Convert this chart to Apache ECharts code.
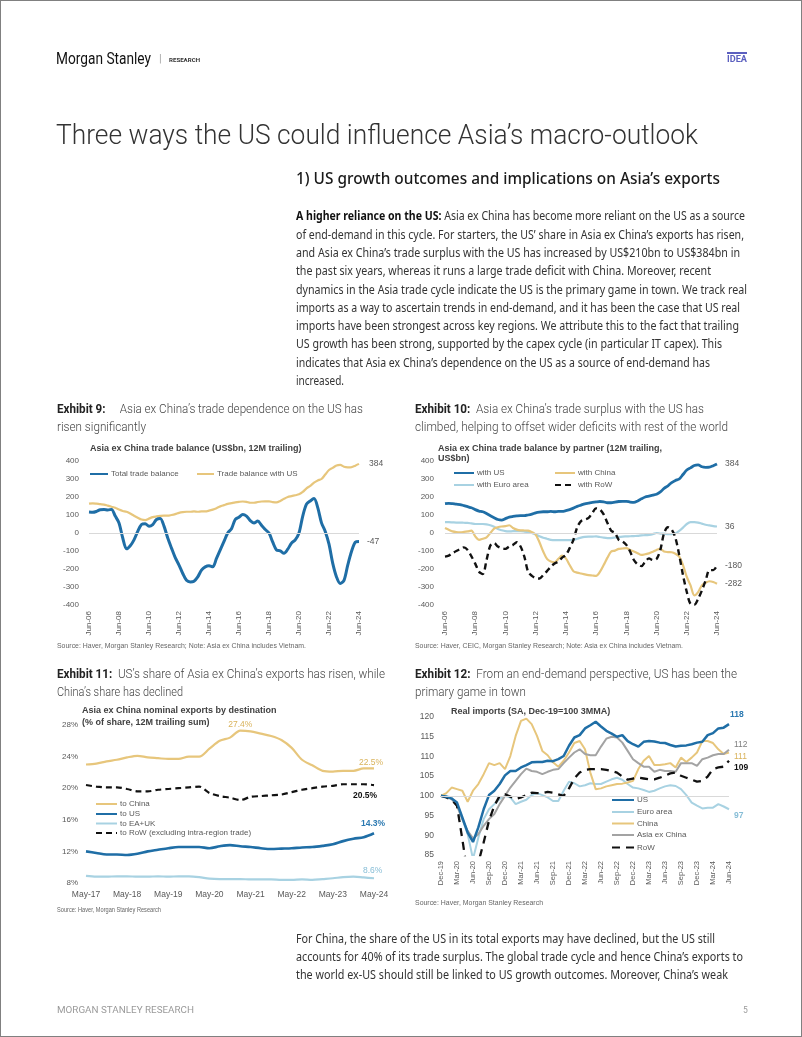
<!DOCTYPE html>
<html><head><meta charset="utf-8">
<script src="https://cdn.jsdelivr.net/npm/echarts@6/dist/echarts.min.js"></script>
<style>
html,body{margin:0;padding:0;background:#fff;}
#page{position:relative;width:802px;height:1037px;overflow:hidden;box-sizing:border-box;border:1px solid #808080;}
#chart{position:absolute;left:0;top:0;width:802px;height:1037px;}
.t{position:absolute;white-space:nowrap;transform-origin:0 50%;}
</style></head>
<body><div id="page"><div id="chart"></div><div id="txt"></div></div>
<script>
// ---------------- DATA ----------------
// Exhibit 9 / 10 : quarterly, Jun-06 .. Jun-24 (US$bn, 12M trailing)
const totalBalance = [116,115,120, 129,130,128,131, 94,56,-28,-88, -71,-38,9,47, 51,38,47,75, 81,38,-28,-84,
  -137,-178,-225,-263, -272,-268,-244,-206, -188,-182,-188,-141, -94,-47,0,24, 75,88,103,94, 69,56,66,43,
  19,0,-51,-94, -99,-113,-90,-56, -38,0,94,160, 178,191,141,56, 9,-62,-169,-244, -281,-263,-178,-103, -51,-47];
const usBalance = [163,165,163, 160,158,152,146, 140,130,122,118, 108,96,85,75, 72,80,88,92, 95,97,96,100,
  105,112,116,118, 118,120,118,120, 120,124,130,138, 148,155,162,166, 170,173,175,173, 168,168,172,175,
  176,176,172,170, 178,190,200,205, 210,215,228,248, 262,280,292,300, 325,350,362,375, 378,368,365,366, 374,384];
const euroBalance = [60,60,59, 58,58,57,56, 53,50,50,50, 48,43,35,22, 15,10,9,10, 10,10,8,5, 0,-9,-18,-26,
  -32,-38,-40,-40, -40,-40,-40,-38, -32,-26,-22,-20, -20,-19,-22,-26, -28,-28,-25,-22, -20,-19,-18,-17,
  -16,-13,-12,-10, -6,0,-3,-4, -6,-6,-2,12, 30,50,60,60, 58,52,46,42, 38,36];
const chinaBalance = [28,18,9, 5,4,6,9, 13,-19,-38,-32, -24,0,24,32, 36,38,43,28, 19,15,14,13, 5,-9,-51,-103,
  -144,-159,-163,-144, -126,-141,-178,-212, -220,-225,-230,-234, -236,-238,-216,-178, -137,-103,-98,-88,
  -86,-84,-94,-103, -112,-122,-118,-113, -104,-94,-88,-103, -106,-107,-115,-131, -178,-244,-291,-347,
  -328,-291,-276,-268, -272,-282];
const rowBalance = [-131,-126,-112, -100,-90,-80,-95, -130,-170,-215,-228, -150,-70,-56,-75, -84,-88,-75,-66,
  -51,-75,-131,-216, -238,-250,-253,-234, -212,-188,-169,-159, -137,-122,-84,-38, 32,66,75,84, 112,137,131,103,
  56,13,0,-38, -47,-66,-103,-150, -174,-184,-159,-141, -150,-144,-94,0, 32,19,-28,-122, -234,-328,-394,-398,
  -366,-319,-263,-206, -206,-180];

// Exhibit 11 : quarterly, May-17 .. May-24 (% share)
const shareChina = [23.0,23.1,23.4,23.6,23.9,24.1,23.9,23.8,23.7,23.7,24.0,24.0,25.0,26.0,26.4,27.3,27.2,26.9,26.6,26.1,25.1,23.6,22.9,22.2,22.1,22.2,22.2,22.5,22.5];
const shareUS    = [12.0,11.8,11.6,11.6,11.55,11.7,12.0,12.2,12.4,12.55,12.55,12.55,12.4,12.65,12.8,12.65,12.55,12.4,12.3,12.35,12.4,12.5,12.55,12.7,12.9,13.3,13.6,13.8,14.3];
const shareEAUK  = [8.9,8.8,8.8,8.85,8.85,8.8,8.8,8.85,8.8,8.85,8.85,8.75,8.55,8.5,8.5,8.5,8.45,8.45,8.45,8.4,8.4,8.45,8.4,8.5,8.6,8.75,8.8,8.7,8.6];
const shareRoW   = [20.4,20.2,20.1,20.1,19.9,19.6,19.6,19.8,19.9,20.0,20.1,20.2,19.4,19.0,18.8,18.5,18.9,19.0,19.1,19.2,19.5,19.8,20.0,20.2,20.3,20.5,20.5,20.5,20.4];

// Exhibit 12 : monthly, Dec-19 .. Jun-24 (index Dec-19=100)
const impUS = [100,99.8,99.3,98.3,94.5,90.7,88.3,92.0,96.6,100.2,101.3,103.0,105.2,106.3,106.3,107.2,107.8,108.5,108.6,108.6,108.9,108.8,109.3,110.1,112.7,114.8,115.4,117.1,117.9,118.8,117.6,116.5,115.8,115.0,115.4,113.9,113.1,112.5,113.7,113.9,113.8,113.5,113.4,112.9,112.5,112.7,112.8,113.1,113.5,113.7,115.4,115.9,117.1,117.3,118.2];
const impEuro = [100,100,99.6,97.5,94.1,90.3,84.0,89.4,94.1,96.6,97.9,99.2,100.0,99.6,97.9,98.5,99.0,100.2,100.7,100.2,99.6,98.7,98.7,101.3,103.6,103.2,102.4,102.7,103.2,103.0,103.0,103.6,104.2,104.6,104.1,103.0,102.1,101.9,101.5,101.0,101.3,101.9,102.4,102.7,102.5,101.7,100.2,98.3,97.5,96.8,97.0,97.0,97.9,97.3,96.6];
const impChina = [100,100.7,102.1,101.7,101.3,98.5,101.3,103.0,105.5,108.3,107.8,108.3,106.8,110.1,115.2,119.0,119.6,118.2,115.2,111.4,110.3,108.5,107.4,108.9,111.0,113.4,113.9,111.8,105.9,101.7,101.9,102.4,102.7,103.0,103.1,103.4,103.8,106.8,108.9,110.1,107.8,107.8,108.0,108.3,107.2,109.7,108.6,109.7,111.0,113.9,113.9,113.4,111.8,110.6,111.0];
const impAxC = [100,99.8,99.2,97.5,94.1,91.1,89.2,90.3,92.4,94.1,95.4,97.9,100.0,102.1,103.8,105.5,106.9,106.3,106.1,105.5,106.1,106.6,106.8,108.3,109.7,111.0,111.8,110.6,110.3,110.3,112.5,114.5,115.0,114.8,113.5,111.4,109.3,108.3,107.4,107.4,106.1,106.6,106.3,106.3,106.1,108.3,108.3,108.3,107.6,109.3,109.7,110.3,110.6,110.6,111.7];
const impRoW = [100,99.6,99.0,97.5,89.0,80.0,76.0,83.0,88.2,93.7,97.5,100.0,100.4,99.8,99.2,99.6,100.2,100.8,100.7,100.7,101.0,100.8,100.4,100.0,101.9,104.4,105.9,106.6,106.8,106.8,106.8,106.6,106.3,105.9,104.9,104.1,104.4,104.6,104.4,104.2,104.2,104.6,105.1,105.7,105.9,105.1,104.6,104.1,103.6,103.8,104.9,106.8,107.2,107.4,108.9];

// category (tick) labels: month sequences
const MON = ['Jan','Feb','Mar','Apr','May','Jun','Jul','Aug','Sep','Oct','Nov','Dec'];
function monthSeq(y, m, count, step){ const out=[]; for(let i=0;i<count;i++){ const k=m+i*step; const yy=y+Math.floor(k/12); out.push(MON[k%12]+'-'+String(yy%100).padStart(2,'0')); } return out; }
const quartersJun06 = monthSeq(2006, 5, 73, 3);   // Jun-06 .. Jun-24
const quartersMay17 = monthSeq(2017, 4, 29, 3);   // May-17 .. May-24
const monthsDec19   = monthSeq(2019, 11, 55, 1);  // Dec-19 .. Jun-24

// end-of-line labels
const endLab1 = {total:'-47', us:'384'};
const endLab2 = {us:'384', euro:'36', row:'-180', china:'-282'};
const endLab3 = {china:'22.5%', row:'20.5%', us:'14.3%', eauk:'8.6%', peak:'27.4%'};
const endLab4 = {us:'118', asia:'112', china:'111', row:'109', euro:'97'};

// ---------------- CHART ----------------
const FF = '"Liberation Sans", Arial, sans-serif';
const BLUE='#1f6ea6', YEL='#e7c67c', LBLUE='#a8d2e2', GRAY='#a3a3a3', BLK='#111111';
const AX = {fontFamily:FF, fontSize:8, color:'#595959'};
const chart = echarts.init(document.getElementById('chart'), null, {renderer:'canvas', width:802, height:1037});

function xCat(gi, data, extra){ return Object.assign({type:'category', gridIndex:gi, data:data, boundaryGap:false,
  axisLine:{show:false}, axisTick:{show:false}, splitLine:{show:false}}, extra); }
function yVal(gi, extra){ return Object.assign({type:'value', gridIndex:gi, splitLine:{show:false}, axisLine:{show:false}, axisTick:{show:false}}, extra); }
function line(name, gi, data, color, width, extra){
  return Object.assign({type:'line', name:name, xAxisIndex:gi, yAxisIndex:gi, data:data, symbol:'none', showSymbol:false,
    lineStyle:{color:color, width:width}, itemStyle:{color:color}, emphasis:{disabled:true}}, extra);
}
function endLabel(text, color, opts){ return {endLabel:Object.assign({show:true, formatter:text, color:color, fontFamily:FF, fontSize:8.5, distance:8}, opts||{})}; }
function refLine(v){ return {markLine:{silent:true, symbol:['none','none'], label:{show:false}, lineStyle:{color:'#d9d9d9', width:1, type:'solid'}, data:[{yAxis:v}]}}; }
function lg(name, left, cy, iw){ return {data:[name], left:left, top:cy-5, itemWidth:iw, itemHeight:10, padding:0, selectedMode:false,
  itemStyle:{opacity:0},
  textStyle:{fontFamily:FF, fontSize:8, color:'#595959', padding:[0,0,0,-2]}}; }

const titleStyle = {fontFamily:FF, fontSize:9, fontWeight:'bold', color:'#404040'};

const option = {
  animation:false,
  title:[
    {text:'Asia ex China trade balance (US$bn, 12M trailing)', left:89, top:443, padding:0, textStyle:titleStyle},
    {text:'Asia ex China trade balance by partner (12M trailing,\nUS$bn)', left:437, top:442.5, padding:0, textStyle:Object.assign({lineHeight:10},titleStyle)},
    {text:'Asia ex China nominal exports by destination\n(% of share, 12M trailing sum)', left:81, top:704, padding:0, textStyle:Object.assign({lineHeight:11.7},titleStyle)},
    {text:'Real imports (SA, Dec-19=100 3MMA)', left:450, top:706, padding:0, textStyle:titleStyle}
  ],
  legend:[
    lg('Total trade balance', 88, 474, 18), lg('Trade balance with US', 195, 474, 17),
    lg('with US', 452, 473, 20), lg('with China', 553, 473, 20), lg('with Euro area', 452, 485, 20), lg('with RoW', 553, 485, 20),
    lg('to China', 94, 804, 21), lg('to US', 94, 814, 21), lg('to EA+UK', 94, 823.5, 21), lg('to RoW (excluding intra-region trade)', 94, 833, 21),
    lg('US', 610, 800, 22), lg('Euro area', 610, 812, 22), lg('China', 610, 823.5, 22), lg('Asia ex China', 610, 835, 22), lg('RoW', 610, 847.5, 22)
  ],
  grid:[
    {left:88, top:460, width:270, height:144},
    {left:444, top:460, width:272, height:144},
    {left:85, top:724, width:288, height:158},
    {left:440, top:716, width:288, height:138}
  ],
  xAxis:[
    xCat(0, quartersJun06, {axisLabel:Object.assign({}, AX, {rotate:90, interval:7, margin:6})}),
    xCat(1, quartersJun06, {axisLabel:Object.assign({}, AX, {rotate:90, interval:7, margin:6})}),
    xCat(2, quartersMay17, {axisLabel:Object.assign({}, AX, {fontSize:8.5, interval:3, margin:7})}),
    xCat(3, monthsDec19, {axisLabel:Object.assign({}, AX, {fontSize:7.5, rotate:90, interval:2, margin:6})})
  ],
  yAxis:[
    yVal(0, {min:-400, max:400, interval:100, axisLabel:Object.assign({}, AX, {margin:10})}),
    yVal(1, {min:-400, max:400, interval:100, axisLabel:Object.assign({}, AX, {margin:11})}),
    yVal(2, {min:8, max:28, interval:4, axisLabel:Object.assign({}, AX, {margin:8, formatter:'{value}%'})}),
    yVal(3, {min:85, max:120, interval:5, axisLabel:Object.assign({}, AX, {margin:7, fontSize:8.5})})
  ],
  series:[
    // Exhibit 9
    line('Trade balance with US', 0, usBalance, YEL, 2.2, Object.assign({smooth:0.3}, endLabel(endLab1.us, '#595959', {distance:10}), refLine(0))),
    line('Total trade balance', 0, totalBalance, BLUE, 3, Object.assign({smooth:0.3}, endLabel(endLab1.total, '#595959'))),
    // Exhibit 10
    line('with Euro area', 1, euroBalance, LBLUE, 2.2, Object.assign({smooth:0.3}, endLabel(endLab2.euro, '#595959'), refLine(0))),
    line('with China', 1, chinaBalance, YEL, 2.2, Object.assign({smooth:0.3}, endLabel(endLab2.china, '#595959'))),
    line('with RoW', 1, rowBalance, BLK, 2.4, Object.assign({smooth:0.3, lineStyle:{color:BLK, width:2.4, type:[6,4]}}, endLabel(endLab2.row, '#595959'))),
    line('with US', 1, usBalance, BLUE, 2.8, Object.assign({smooth:0.3}, endLabel(endLab2.us, '#595959'))),
    // Exhibit 11
    line('to China', 2, shareChina, YEL, 2.2, Object.assign({smooth:0.3,
      markPoint:{silent:true, symbol:'circle', symbolSize:0, data:[{type:'max', label:{show:true, formatter:endLab3.peak, position:'top', distance:1, color:'#d9b35c', fontFamily:FF, fontSize:8.5}}]}},
      endLabel(endLab3.china, '#d9b35c', {distance:0, offset:[-15,-5.5]}))),
    line('to US', 2, shareUS, BLUE, 2.6, Object.assign({smooth:0.3}, endLabel(endLab3.us, '#2b79b1', {distance:0, offset:[-13,-10], fontWeight:'bold'}))),
    line('to EA+UK', 2, shareEAUK, LBLUE, 2.2, Object.assign({smooth:0.3}, endLabel(endLab3.eauk, '#86bdd6', {distance:0, offset:[-11,-8]}))),
    line('to RoW (excluding intra-region trade)', 2, shareRoW, BLK, 2.2, Object.assign({smooth:0.3, lineStyle:{color:BLK, width:2.2, type:[6,4]}}, endLabel(endLab3.row, BLK, {distance:0, offset:[-21,11], fontWeight:'bold'}))),
    // Exhibit 12
    line('Euro area', 3, impEuro, LBLUE, 2, Object.assign({clip:true}, endLabel(endLab4.euro, '#86bdd6', {distance:0, offset:[5,6], fontWeight:'bold'}), refLine(100))),
    line('China', 3, impChina, YEL, 2, Object.assign({clip:true}, endLabel(endLab4.china, '#d9b35c', {distance:0, offset:[5,4.5]}))),
    line('Asia ex China', 3, impAxC, GRAY, 2, Object.assign({clip:true}, endLabel(endLab4.asia, '#7f7f7f', {distance:0, offset:[5,-5]}))),
    line('RoW', 3, impRoW, BLK, 2.3, Object.assign({clip:true, lineStyle:{color:BLK, width:2.3, type:[8,6]}}, endLabel(endLab4.row, BLK, {distance:0, offset:[5,7], fontWeight:'bold'}))),
    line('US', 3, impUS, BLUE, 2.5, Object.assign({clip:true}, endLabel(endLab4.us, '#2b79b1', {distance:0, offset:[1,-9], fontWeight:'bold'})))
  ]
};
chart.setOption(option);

// ---------------- PAGE TEXT ----------------
const ROB='Roboto, "Noto Sans", sans-serif', NOTO='"Noto Sans", "Open Sans", sans-serif', LIB='"Liberation Sans", Arial, sans-serif';
const para1 = [
  '<b style="font-weight:700;color:#111">A higher reliance on the US:</b> Asia ex China has become more reliant on the US as a source',
  'of end-demand in this cycle. For starters, the US’ share in Asia ex China’s exports has risen,',
  'and Asia ex China’s trade surplus with the US has increased by US$210bn to US$384bn in',
  'the past six years, whereas it runs a large trade deficit with China. Moreover, recent',
  'dynamics in the Asia trade cycle indicate the US is the primary game in town. We track real',
  'imports as a way to ascertain trends in end-demand, and it has been the case that US real',
  'imports have been strongest across key regions. We attribute this to the fact that trailing',
  'US growth has been strong, supported by the capex cycle (in particular IT capex). This',
  'indicates that Asia ex China’s dependence on the US as a source of end-demand has',
  'increased.'
];
const para1W = [449,448,444,415,451,444,443,426,414,48];
const para2 = [
  'For China, the share of the US in its total exports may have declined, but the US still',
  'accounts for 40% of its trade surplus. The global trade cycle and hence China’s exports to',
  'the world ex-US should still be linked to US growth outcomes. Moreover, China’s weak'
];
const para2W = [419,447,432];
const T = [];
// header
T.push({x:55, cy:58, w:95, fs:16, ff:ROB, fw:400, c:'#111', h:'Morgan Stanley'});
T.push({x:158, cy:58, fs:11, ff:ROB, fw:300, c:'#777', h:'|'});
T.push({x:168, cy:58.5, w:31, fs:6, ff:ROB, fw:700, c:'#333', h:'RESEARCH'});
T.push({x:726, cy:58.5, w:20, fs:9, ff:ROB, fw:700, c:'#5b5fbf', h:'IDEA'});
// main title & subheading
T.push({x:55, cy:133, w:642, fs:28, ff:ROB, fw:300, c:'#333', h:'Three ways the US could influence Asia’s macro-outlook'});
T.push({x:295, cy:177, w:424, fs:17, ff:NOTO, fw:500, c:'#1a1a1a', h:'1) US growth outcomes and implications on Asia’s exports'});
para1.forEach((h,i)=>T.push({x:295, cy:215+i*18.33, w:para1W[i], fs:12.5, ff:NOTO, fw:400, c:'#333', h:h}));
para2.forEach((h,i)=>T.push({x:295, cy:937.7+i*18.2, w:para2W[i], fs:12.5, ff:NOTO, fw:400, c:'#333', h:h}));
// exhibit captions
const EB = (s)=>'<b style="font-weight:700;color:#222">'+s+'</b>';
T.push({x:56, cy:407.7, w:306, fs:13, ff:ROB, fw:300, c:'#444', h:EB('Exhibit 9:')+'&nbsp;&nbsp;&nbsp;&nbsp; Asia ex China’s trade dependence on the US has'});
T.push({x:56, cy:425.7, w:89, fs:13, ff:ROB, fw:300, c:'#444', h:'risen significantly'});
T.push({x:414, cy:407.7, w:289, fs:13, ff:ROB, fw:300, c:'#444', h:EB('Exhibit 10:')+'&nbsp; Asia ex China’s trade surplus with the US has'});
T.push({x:414, cy:425.7, w:313, fs:13, ff:ROB, fw:300, c:'#444', h:'climbed, helping to offset wider deficits with rest of the world'});
T.push({x:56, cy:672.7, w:328, fs:13, ff:ROB, fw:300, c:'#444', h:EB('Exhibit 11:')+'&nbsp; US’s share of Asia ex China’s exports has risen, while'});
T.push({x:56, cy:690.7, w:126, fs:13, ff:ROB, fw:300, c:'#444', h:'China’s share has declined'});
T.push({x:414, cy:672.7, w:322, fs:13, ff:ROB, fw:300, c:'#444', h:EB('Exhibit 12:')+'&nbsp; From an end-demand perspective, US has been the'});
T.push({x:414, cy:690.7, w:111, fs:13, ff:ROB, fw:300, c:'#444', h:'primary game in town'});
// sources
T.push({x:56, cy:645, w:249, fs:6.5, ff:LIB, fw:400, c:'#666', h:'Source: Haver, Morgan Stanley Research; Note: Asia ex China includes Vietnam.'});
T.push({x:414, cy:645, w:268, fs:6.5, ff:LIB, fw:400, c:'#666', h:'Source: Haver, CEIC, Morgan Stanley Research; Note: Asia ex China includes Vietnam.'});
T.push({x:56, cy:909, w:104, fs:6.5, ff:LIB, fw:400, c:'#666', h:'Source: Haver, Morgan Stanley Research'});
T.push({x:414, cy:901.7, w:128, fs:6.5, ff:LIB, fw:400, c:'#666', h:'Source: Haver, Morgan Stanley Research'});
// footer
T.push({x:56, cy:1009, w:137, fs:8.5, ff:ROB, fw:400, c:'#9a9a9a', h:'MORGAN STANLEY RESEARCH'});
T.push({x:742, cy:1009, fs:8.5, ff:ROB, fw:400, c:'#9a9a9a', h:'5'});

const box = document.getElementById('txt');
const bar = document.createElement('div');
bar.style.cssText='position:absolute;left:726px;top:51px;width:20px;height:2px;background:#5b5fbf;';
box.appendChild(bar);
const els=[];
T.forEach(o=>{
  const d=document.createElement('div'); d.className='t';
  const lh=o.fs*1.25;
  d.style.cssText += `left:${o.x}px;top:${o.cy-lh/2}px;font-size:${o.fs}px;line-height:${lh}px;font-family:${o.ff};font-weight:${o.fw};color:${o.c};`;
  d.innerHTML=o.h; box.appendChild(d); els.push([d,o]);
});
function fit(){ els.forEach(([d,o])=>{ if(!o.w) return; d.style.transform='none'; const w=d.getBoundingClientRect().width; if(w>0) d.style.transform=`scaleX(${o.w/w})`; }); }
fit();
if(document.fonts && document.fonts.ready){ document.fonts.ready.then(fit); }
</script>
</body></html>
